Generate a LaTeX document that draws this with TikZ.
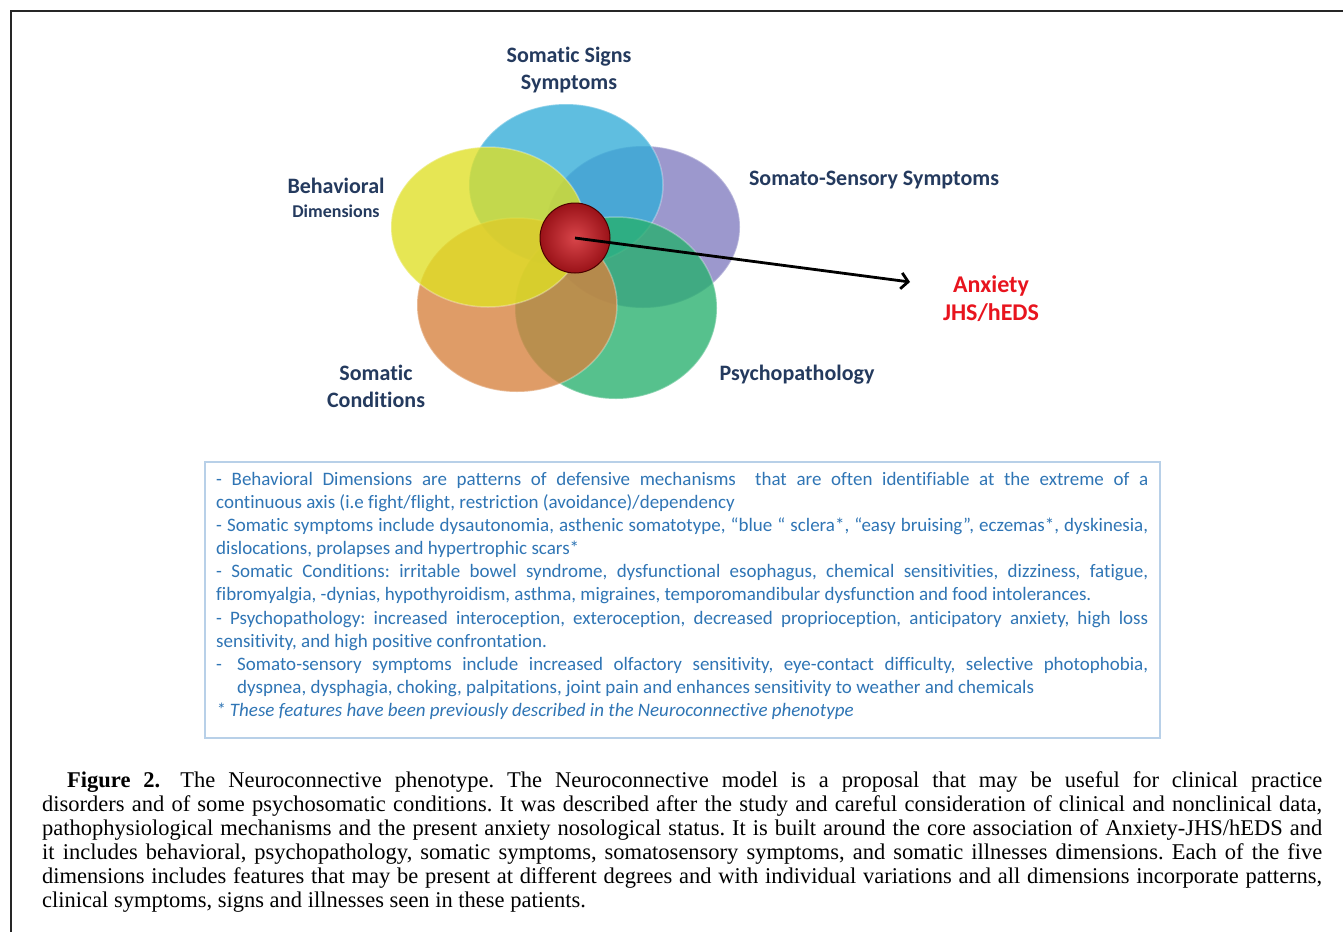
\documentclass[tikz,border=0pt]{standalone}
\usepackage{fontspec}
\setmainfont{Liberation Serif}
\newfontfamily\carlito[Ligatures=NoCommon]{Carlito}
\usetikzlibrary{arrows.meta}
\definecolor{navy}{HTML}{243A5E}
\definecolor{txtblue}{HTML}{2F75B5}
\definecolor{boxline}{HTML}{B8D0E8}
\definecolor{blueC}{HTML}{32ACD8}
\definecolor{purpleC}{HTML}{817CBF}
\definecolor{yellowC}{HTML}{E0E024}
\definecolor{orangeC}{HTML}{D6813D}
\definecolor{greenC}{HTML}{27B06D}
\definecolor{redT}{HTML}{E8141E}
\definecolor{coreIn}{HTML}{D8454A}
\definecolor{coreOut}{HTML}{9A1218}
\begin{document}
\begin{tikzpicture}[x=1pt,y=-1pt,
  lbl/.style={font=\carlito\bfseries\fontsize{22}{27}\selectfont, text=navy, align=center, inner sep=0pt},
  petal/.style={fill opacity=0.78, draw=white, draw opacity=0.3, line width=1.5pt},
  frameline/.style={line width=2pt, black!85}]
\useasboundingbox (0,0) rectangle (1343,932);
\fill[white] (0,0) rectangle (1343,932);
\draw[frameline] (11,932) -- (11,11) -- (1343,11);

% petals
\filldraw[petal, fill=purpleC] (643,227) ellipse [x radius=97pt, y radius=81pt];
\filldraw[petal, fill=blueC] (566,185) ellipse [x radius=97pt, y radius=81pt];
\filldraw[petal, fill=greenC] (616,308) ellipse [x radius=101pt, y radius=91pt];
\filldraw[petal, fill=orangeC] (517,305) ellipse [x radius=100pt, y radius=87pt];
\filldraw[petal, fill=yellowC] (488,227) ellipse [x radius=97pt, y radius=80pt];

% core sphere and arrow
\node[circle, minimum size=70pt, inner sep=0pt, inner color=coreIn, outer color=coreOut, draw=red!30!black, line width=1pt] (core) at (575,238) {};
\coordinate (tip) at (910,282);
\draw[line width=2.8pt, -{Straight Barb[length=7pt,width=16pt]}] (core.center) -- (tip);

% labels
\node[lbl] (ssign) at (569,70) {Somatic Signs\\Symptoms};
\node[lbl] (behav) at (336,198) {Behavioral\\[-3pt]{\fontsize{18}{22}\selectfont Dimensions}};
\node[lbl] (ssens) at (874,180) {Somato-Sensory Symptoms};
\node[lbl, text=redT, font=\carlito\bfseries\fontsize{24}{28}\selectfont] (anx) at (991,299) {Anxiety\\JHS/hEDS};
\node[lbl] (scond) at (376,386) {Somatic\\Conditions};
\node[lbl] (psych) at (797,375) {Psychopathology};

% text box
\draw[boxline, line width=1.5pt] (205,462) rectangle (1160,738);
\node[anchor=north west, inner sep=0pt] (notes) at (216,472) {\parbox{932pt}{\carlito\fontsize{19}{23.1}\selectfont\color{txtblue}\parindent=0pt\hyphenpenalty=10000\frenchspacing
- Behavioral Dimensions are patterns of defensive mechanisms\ \ that are often identifiable at the extreme of a\linebreak continuous axis (i.e fight/flight, restriction (avoidance)/dependency\par
- Somatic symptoms include dysautonomia, asthenic somatotype, “blue “ sclera*, “easy bruising”, eczemas*, dyskinesia,\linebreak dislocations, prolapses and hypertrophic scars*\par
- Somatic Conditions: irritable bowel syndrome, dysfunctional esophagus, chemical sensitivities, dizziness, fatigue,\linebreak fibromyalgia, -dynias, hypothyroidism, asthma, migraines, temporomandibular dysfunction and food intolerances.\par
- Psychopathology: increased interoception, exteroception, decreased proprioception, anticipatory anxiety, high loss\linebreak sensitivity, and high positive confrontation.\par
\hangindent=21pt\hangafter=1 \makebox[21pt][l]{-}Somato-sensory symptoms include increased olfactory sensitivity, eye-contact difficulty, selective photophobia,\linebreak dyspnea, dysphagia, choking, palpitations, joint pain and enhances sensitivity to weather and chemicals\par
{\itshape * These features have been previously described in the Neuroconnective phenotype}\par}};

% caption
\node[anchor=north west, inner sep=0pt] (caption) at (42,771) {\parbox{1280pt}{\fontsize{22.5}{24}\selectfont\parindent=0pt\hyphenpenalty=10000\tolerance=9999\frenchspacing
\hspace*{25pt}\textbf{Figure 2.}\hspace{20pt}The Neuroconnective phenotype. The Neuroconnective model is a proposal that may be useful for clinical practice\linebreak disorders and of some psychosomatic conditions. It was described after the study and careful consideration of clinical and nonclinical data,\linebreak pathophysiological mechanisms and the present anxiety nosological status. It is built around the core association of Anxiety-JHS/hEDS and\linebreak it includes behavioral, psychopathology, somatic symptoms, somatosensory symptoms, and somatic illnesses dimensions. Each of the five\linebreak dimensions includes features that may be present at different degrees and with individual variations and all dimensions incorporate patterns,\linebreak clinical symptoms, signs and illnesses seen in these patients.\par}};
\end{tikzpicture}
\end{document}
